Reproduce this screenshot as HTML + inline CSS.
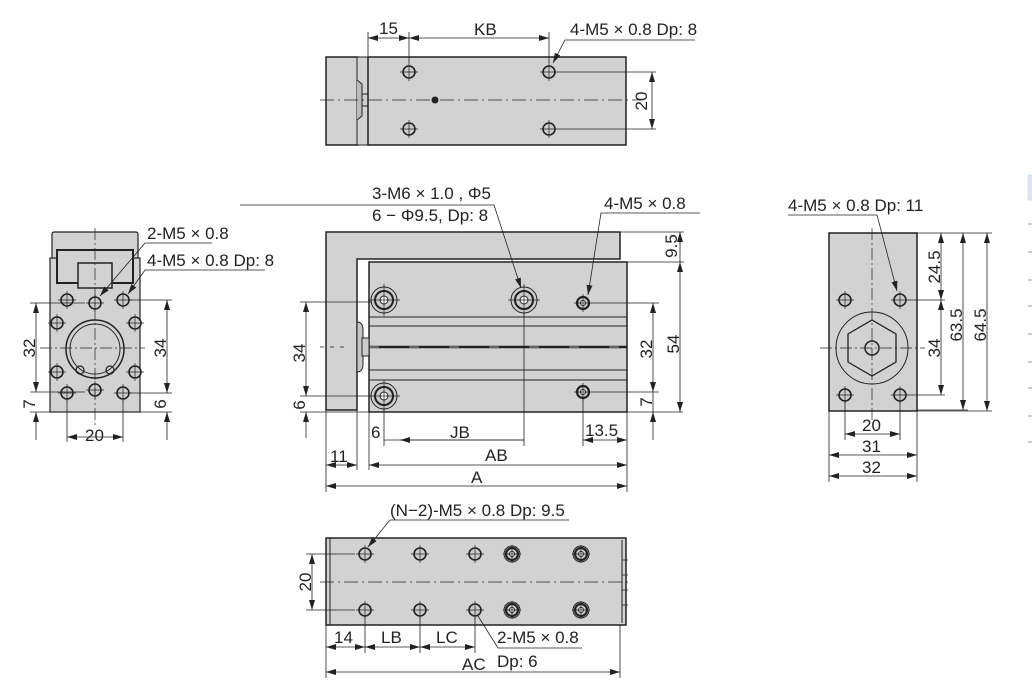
<!DOCTYPE html>
<html><head><meta charset="utf-8"><style>
html,body{margin:0;padding:0;background:#fff;}
svg{display:block;}
text{font-family:"Liberation Sans",sans-serif;font-size:17px;fill:#222;}
</style></head><body>
<svg width="1032" height="700" viewBox="0 0 1032 700" xmlns="http://www.w3.org/2000/svg">
<defs>
<marker id="a" viewBox="0 0 10 6" refX="10" refY="3" markerWidth="10" markerHeight="6" orient="auto-start-reverse" markerUnits="userSpaceOnUse"><path d="M0,0L10,3L0,6z" fill="#222"/></marker>
<g id="h"><circle r="6" fill="#ccc" stroke="#222" stroke-width="1.6"/><path d="M-9,0H9M0,-9V9" stroke="#222" stroke-width="0.7"/></g>
<g id="bh"><circle r="13" fill="#ccc" stroke="#222" stroke-width="1"/><circle r="9" fill="#ccc" stroke="#222" stroke-width="2"/><circle r="4" fill="#fff" stroke="#222" stroke-width="1"/><path d="M-16,0H16M0,-16V16" stroke="#222" stroke-width="0.7"/></g>
<g id="sh"><circle r="6" fill="#ccc" stroke="#222" stroke-width="2.2"/><circle r="2.5" fill="#fff" stroke="#222" stroke-width="1"/><path d="M-9,0H9M0,-9V9" stroke="#222" stroke-width="0.7"/></g>
</defs>
<g stroke="#222" stroke-width="1" fill="none">

<!-- TOP VIEW -->
<rect x="326" y="57" width="32" height="88" fill="#d2d2d2" stroke-width="1.5"/>
<rect x="357" y="57" width="11" height="88" fill="#d2d2d2"/>
<path d="M357,80 L362,84 V116 L357,120" fill="#bbb"/>
<rect x="362" y="94" width="6" height="12" fill="#ccc"/>
<rect x="368" y="57" width="258" height="88" fill="#d2d2d2" stroke-width="1.5"/>
<use href="#h" x="409" y="72"/><use href="#h" x="549" y="72"/><use href="#h" x="409" y="129"/><use href="#h" x="549" y="129"/>
<circle cx="435" cy="100" r="3" fill="#222"/>
<path d="M320,100H640" stroke-dasharray="14,4,2,4" stroke-width="0.7"/>
<path d="M368,57V32M409,63V32M549,63V32" stroke-width="0.8"/>
<path d="M368,38H409" marker-start="url(#a)" marker-end="url(#a)" stroke-width="0.8"/>
<path d="M409,38H549" marker-start="url(#a)" marker-end="url(#a)" stroke-width="0.8"/>
<path d="M558,72H656M558,129H656" stroke-width="0.8"/>
<path d="M652,72V129" marker-start="url(#a)" marker-end="url(#a)" stroke-width="0.8"/>
<path d="M695,40H565L553,63" stroke-width="0.8" marker-end="url(#a)"/>

<!-- FRONT VIEW -->
<path d="M326,232H620V259H357V410H326Z" fill="#d2d2d2" stroke-width="1.5"/>
<rect x="369" y="262" width="258" height="150" fill="#d2d2d2" stroke-width="1.5"/>
<path d="M369,317H627M369,326H627M369,370H627M369,380H627" stroke-width="1"/>
<path d="M369,347H627" stroke-width="2.5"/>
<path d="M369,347H627" stroke="#aaa" stroke-width="1" stroke-dasharray="10,30"/>
<path d="M357,322 Q363,322 363,330 V364 Q363,372 357,372Z" fill="#c6c6c6"/>
<rect x="362" y="338" width="7" height="18" fill="#ccc"/>
<use href="#bh" x="384" y="300"/><use href="#bh" x="384" y="396"/><use href="#bh" x="524" y="300"/>
<use href="#sh" x="583" y="303"/><use href="#sh" x="583" y="392"/>
<path d="M320,347H350" stroke-width="0.7" stroke-dasharray="4,6"/>
<path d="M300,302H372M300,396H372M300,412H369" stroke-width="0.8"/>
<path d="M306,302V396" marker-start="url(#a)" marker-end="url(#a)" stroke-width="0.8"/>
<path d="M306,412V438" marker-start="url(#a)" stroke-width="0.8"/>
<path d="M592,303H659M592,392H659M627,412H683M620,232H684M627,262H684" stroke-width="0.8"/>
<path d="M653,303V392" marker-start="url(#a)" marker-end="url(#a)" stroke-width="0.8"/>
<path d="M653,412V440" marker-start="url(#a)" stroke-width="0.8"/>
<path d="M653,392V412" stroke-width="0.8"/>
<path d="M680,262V412" marker-start="url(#a)" marker-end="url(#a)" stroke-width="0.8"/>
<path d="M680,232V262" stroke-width="0.8"/>
<path d="M680,244V232" marker-end="url(#a)" stroke-width="0.8"/>
<path d="M326,410V492M357,410V470M369,412V470M384,410V446M524,313V446M583,398V446M627,412V492" stroke-width="0.8"/>
<path d="M524,440H400" marker-end="url(#a)" stroke-width="0.8"/>
<path d="M524,440H384" stroke-width="0.8"/>
<path d="M583,440H627" marker-start="url(#a)" marker-end="url(#a)" stroke-width="0.8"/>
<path d="M326,465H357" marker-start="url(#a)" marker-end="url(#a)" stroke-width="0.8"/>
<path d="M369,465H627" marker-start="url(#a)" marker-end="url(#a)" stroke-width="0.8"/>
<path d="M326,486H627" marker-start="url(#a)" marker-end="url(#a)" stroke-width="0.8"/>
<path d="M240,205H494L521,288" stroke-width="0.8" marker-end="url(#a)"/>
<path d="M700,213H601L588,295" stroke-width="0.8" marker-end="url(#a)"/>

<!-- LEFT SIDE VIEW -->
<rect x="52" y="232" width="86" height="30" rx="2" fill="#d2d2d2" stroke-width="1.2"/>
<rect x="50" y="258" width="90" height="154" fill="#d2d2d2" stroke-width="1.2"/>
<path d="M57,283V250H133V283Z" fill="#d2d2d2" stroke-width="2"/>
<rect x="78" y="263" width="34" height="25" fill="#d2d2d2" stroke-width="1.5"/>
<circle cx="95" cy="349" r="29" fill="#d2d2d2" stroke-width="1.5"/>
<circle cx="95" cy="349" r="25" stroke-width="1"/>
<circle cx="80" cy="370" r="4" stroke-width="1.2"/><circle cx="110" cy="370" r="4" stroke-width="1.2"/>
<use href="#h" x="67" y="300"/><use href="#h" x="95" y="303"/><use href="#h" x="123" y="300"/>
<use href="#h" x="67" y="393"/><use href="#h" x="95" y="390"/><use href="#h" x="123" y="393"/>
<use href="#h" x="57" y="323"/><use href="#h" x="135" y="323"/><use href="#h" x="57" y="372"/><use href="#h" x="135" y="372"/>
<path d="M95,228V425" stroke-width="0.7" stroke-dasharray="12,3,2,3"/>
<path d="M40,348H145" stroke-width="0.7" stroke-dasharray="12,3,2,3"/>
<path d="M30,303H85M30,392H85M30,412H50M130,300H172M130,393H172M140,412H172M67,400V442M123,400V442" stroke-width="0.8"/>
<path d="M36,303V392" marker-start="url(#a)" marker-end="url(#a)" stroke-width="0.8"/>
<path d="M36,412V440" marker-start="url(#a)" stroke-width="0.8"/>
<path d="M167,300V393" marker-start="url(#a)" marker-end="url(#a)" stroke-width="0.8"/>
<path d="M167,412V440" marker-start="url(#a)" stroke-width="0.8"/>
<path d="M67,437H123" marker-start="url(#a)" marker-end="url(#a)" stroke-width="0.8"/>
<path d="M212,243H145L100,296" stroke-width="0.8" marker-end="url(#a)"/>
<path d="M265,270H145L128,294" stroke-width="0.8" marker-end="url(#a)"/>

<!-- RIGHT VIEW -->
<rect x="829" y="233" width="88" height="178" fill="#d2d2d2" stroke-width="1.5"/>
<circle cx="872" cy="348" r="36"/>
<polygon points="872,320 896,334 896,362 872,376 848,362 848,334" stroke-width="1.3"/>
<circle cx="872" cy="348" r="7" stroke-width="1.5"/>
<use href="#h" x="845" y="300"/><use href="#h" x="900" y="300"/><use href="#h" x="845" y="395"/><use href="#h" x="900" y="395"/>
<path d="M872,228V420" stroke-width="0.7" stroke-dasharray="12,3,2,3"/>
<path d="M820,348H925" stroke-width="0.7" stroke-dasharray="12,3,2,3"/>
<path d="M917,233H992M908,300H945M908,395H945M917,410H968M917,411H992" stroke-width="0.8"/>
<path d="M941,233V300" marker-start="url(#a)" marker-end="url(#a)" stroke-width="0.8"/>
<path d="M941,300V395" marker-start="url(#a)" marker-end="url(#a)" stroke-width="0.8"/>
<path d="M963,233V410" marker-start="url(#a)" marker-end="url(#a)" stroke-width="0.8"/>
<path d="M987,233V411" marker-start="url(#a)" marker-end="url(#a)" stroke-width="0.8"/>
<path d="M845,400V440M900,400V440M829,411V482M917,411V482" stroke-width="0.8"/>
<path d="M845,434H900" marker-start="url(#a)" marker-end="url(#a)" stroke-width="0.8"/>
<path d="M829,455H917" marker-start="url(#a)" marker-end="url(#a)" stroke-width="0.8"/>
<path d="M829,476H917" marker-start="url(#a)" marker-end="url(#a)" stroke-width="0.8"/>
<path d="M788,215H877L897,291" stroke-width="0.8" marker-end="url(#a)"/>
<rect x="1028" y="175" width="6" height="25" fill="#dde6f0" stroke="#bcc" stroke-width="0.5"/>
<path d="M1028,224H1032M1028,252H1032M1028,280H1032M1028,306H1032M1028,334H1032M1028,362H1032M1028,388H1032M1028,416H1032M1028,442H1032" stroke="#999"/>

<!-- BOTTOM VIEW -->
<rect x="326" y="538" width="300" height="87" fill="#d2d2d2" stroke-width="1.5"/>
<path d="M330,538V625" stroke-width="1"/>
<path d="M622,540V623" stroke-width="1"/>
<path d="M622,560H628M622,575H628M622,590H628M622,605H628" stroke-width="0.8"/>
<use href="#h" x="365" y="554"/><use href="#h" x="420" y="554"/><use href="#h" x="475" y="554"/>
<use href="#h" x="365" y="610"/><use href="#h" x="420" y="610"/><use href="#h" x="475" y="610"/>
<use href="#sh" x="512" y="554"/><use href="#sh" x="581" y="554"/><use href="#sh" x="512" y="610"/><use href="#sh" x="581" y="610"/>
<circle cx="512" cy="554" r="8" stroke-width="1"/>
<circle cx="581" cy="554" r="8" stroke-width="1"/>
<circle cx="512" cy="610" r="8" stroke-width="1"/>
<circle cx="581" cy="610" r="8" stroke-width="1"/>
<path d="M320,582H630" stroke-width="0.7" stroke-dasharray="14,4,2,4"/>
<path d="M306,554H355M306,610H355" stroke-width="0.8"/>
<path d="M312,554V610" marker-start="url(#a)" marker-end="url(#a)" stroke-width="0.8"/>
<path d="M326,625V678M365,617V653M420,617V653M475,617V653M620,625V678" stroke-width="0.8"/>
<path d="M326,647H365" marker-start="url(#a)" marker-end="url(#a)" stroke-width="0.8"/>
<path d="M365,647H420" marker-start="url(#a)" marker-end="url(#a)" stroke-width="0.8"/>
<path d="M420,647H475" marker-start="url(#a)" marker-end="url(#a)" stroke-width="0.8"/>
<path d="M326,672H620" marker-start="url(#a)" marker-end="url(#a)" stroke-width="0.8"/>
<path d="M569,520H390L368,547" stroke-width="0.8" marker-end="url(#a)"/>
<path d="M582,648H498L478,616" stroke-width="0.8"/>
</g>

<!-- TEXT -->
<text x="379" y="34">15</text>
<text x="474" y="35">KB</text>
<text x="570" y="35">4-M5 × 0.8 Dp: 8</text>
<text transform="translate(647,101) rotate(-90)" text-anchor="middle">20</text>

<text x="372" y="199">3-M6 × 1.0 , Φ5</text>
<text x="372" y="221">6 − Φ9.5, Dp: 8</text>
<text x="604" y="209">4-M5 × 0.8</text>
<text transform="translate(677,246) rotate(-90)" text-anchor="middle">9.5</text>
<text transform="translate(305,353) rotate(-90)" text-anchor="middle">34</text>
<text transform="translate(305,405) rotate(-90)" text-anchor="middle">6</text>
<text transform="translate(652,349) rotate(-90)" text-anchor="middle">32</text>
<text transform="translate(679,344) rotate(-90)" text-anchor="middle">54</text>
<text transform="translate(652,402) rotate(-90)" text-anchor="middle">7</text>
<text x="371" y="438">6</text>
<text x="450" y="438">JB</text>
<text x="585" y="436">13.5</text>
<text x="330" y="462">11</text>
<text x="485" y="461">AB</text>
<text x="471" y="483">A</text>

<text x="147" y="239">2-M5 × 0.8</text>
<text x="147" y="266">4-M5 × 0.8 Dp: 8</text>
<text transform="translate(35,348) rotate(-90)" text-anchor="middle">32</text>
<text transform="translate(35,404) rotate(-90)" text-anchor="middle">7</text>
<text transform="translate(166,348) rotate(-90)" text-anchor="middle">34</text>
<text transform="translate(166,404) rotate(-90)" text-anchor="middle">6</text>
<text x="85" y="441">20</text>

<text x="788" y="211">4-M5 × 0.8 Dp: 11</text>
<text transform="translate(940,267) rotate(-90)" text-anchor="middle">24.5</text>
<text transform="translate(940,348) rotate(-90)" text-anchor="middle">34</text>
<text transform="translate(962,325) rotate(-90)" text-anchor="middle">63.5</text>
<text transform="translate(986,325) rotate(-90)" text-anchor="middle">64.5</text>
<text x="862" y="431">20</text>
<text x="862" y="452">31</text>
<text x="862" y="473">32</text>

<text x="390" y="516">(N−2)-M5 × 0.8 Dp: 9.5</text>
<text transform="translate(311,582) rotate(-90)" text-anchor="middle">20</text>
<text x="334" y="643">14</text>
<text x="381" y="643">LB</text>
<text x="436" y="643">LC</text>
<text x="497" y="643">2-M5 × 0.8</text>
<text x="497" y="667">Dp: 6</text>
<text x="462" y="670">AC</text>
</svg>
</body></html>
